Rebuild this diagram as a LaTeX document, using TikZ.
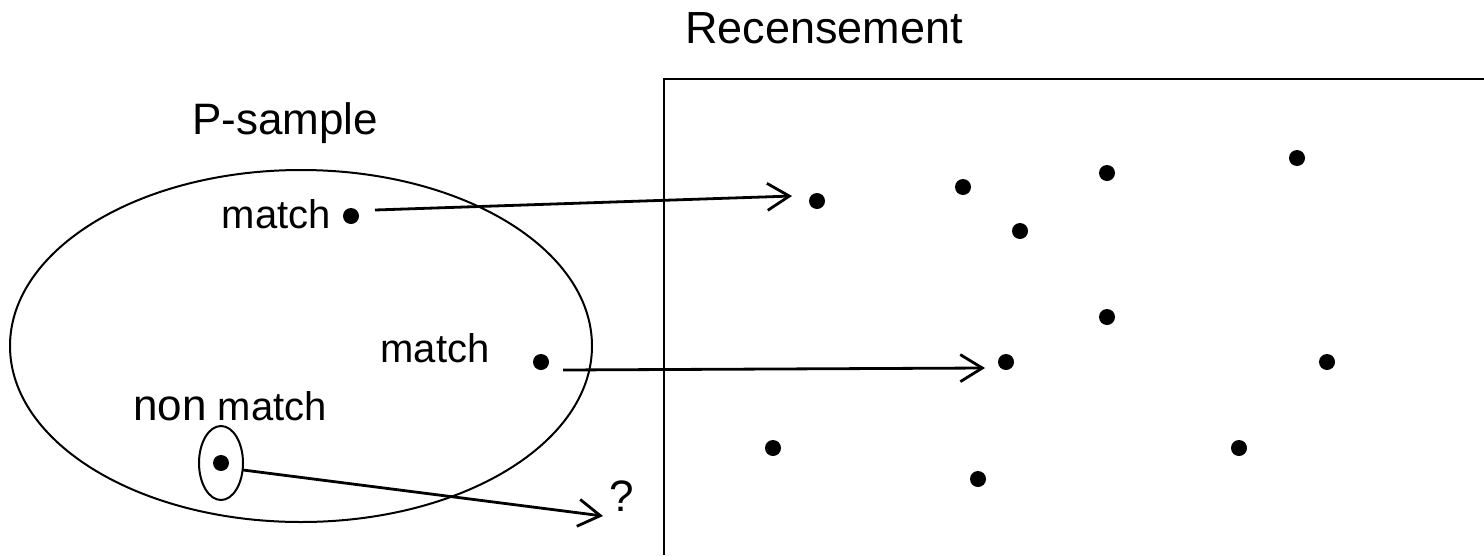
\documentclass[tikz,border=0pt]{standalone}
\usepackage{fontspec}
\setmainfont{Liberation Sans}
\usetikzlibrary{arrows.meta,shapes.geometric}
\begin{document}
\begin{tikzpicture}[x=1pt,y=-1pt,
  dot/.style={circle,fill=black,inner sep=0pt,minimum size=16pt},
  lbl/.style={inner sep=0pt,font=\fontsize{40}{48}\selectfont},
  biglbl/.style={inner sep=0pt,font=\fontsize{44}{52}\selectfont},
  conn/.style={line width=2.8pt,-{Straight Barb[length=22pt,width=27pt,line width=2.8pt]}},
  outline/.style={line width=2pt}]
\useasboundingbox[fill=white] (0,0) rectangle (1484,555);
% frames
\draw[outline] (1484,79) -- (664,79) -- (664,555);
\node[biglbl,anchor=base west,font=\fontsize{45}{52}\selectfont] (rec) at (685,43) {Recensement};
\node[biglbl] (ps) at (285,123) {P-sample};
\draw[outline] (301,346) ellipse [x radius=291, y radius=176];
% labels
\node[lbl,anchor=east] (m1) at (331,214) {match};
\node[lbl] (m2) at (435,348) {match};
\node[lbl,anchor=base west] (nm) at (133,420) {{\fontsize{44}{52}\selectfont non} match};
\node[biglbl] (q) at (622,496) {?};
% sample dots
\node[dot] (d1) at (351,216) {};
\node[dot] (d2) at (541,362) {};
\node[dot] (d3) at (221,463) {};
\node[draw,outline,ellipse,minimum width=44pt,minimum height=74pt,inner sep=0pt] (e3) at (221,463) {};
% census dots
\node[dot] (c1) at (817,201) {};
\node[dot] (c2) at (963,187) {};
\node[dot] (c3) at (1107,173) {};
\node[dot] (c4) at (1297,158) {};
\node[dot] (c5) at (1020,231) {};
\node[dot] (c6) at (1107,317) {};
\node[dot] (c7) at (1006,362) {};
\node[dot] (c8) at (1327,362) {};
\node[dot] (c9) at (773,448) {};
\node[dot] (c10) at (1239,448) {};
\node[dot] (c11) at (978,479) {};
% connectors
\coordinate (a1s) at (375,210);
\coordinate (a1e) at (792,196);
\coordinate (a2s) at (563,370);
\coordinate (a2e) at (985,368);
\coordinate (a3s) at (243,470);
\coordinate (a3e) at (603,516);
\draw[conn] (a1s) -- (a1e);
\draw[conn] (a2s) -- (a2e);
\draw[conn] (a3s) -- (a3e);
\end{tikzpicture}
\end{document}
